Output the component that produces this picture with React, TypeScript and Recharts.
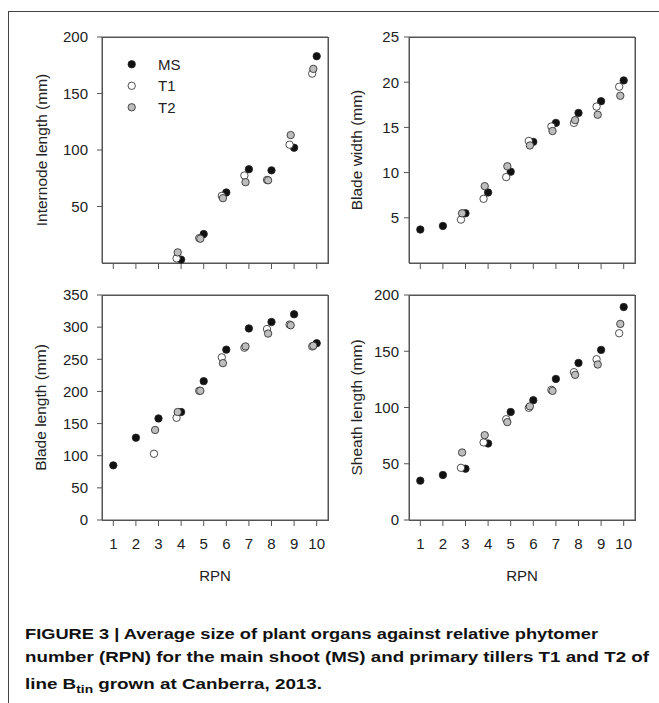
import { ScatterChart, Scatter, XAxis, YAxis, Legend, ReferenceLine } from "recharts";

// ---------------------------------------------------------------------------
// Data. null = organ not present at that RPN
// ---------------------------------------------------------------------------

const RPN = [1, 2, 3, 4, 5, 6, 7, 8, 9, 10];

const internodeMS = [null, null, null, 3, 25.6, 62.4, 83, 82, 102, 183];
const internodeT1 = [null, null, null, 4.1, 22, 59.4, 77.4, 73.5, 104.7, 167.6];
const internodeT2 = [null, null, null, 9.4, 21.5, 57.4, 71.5, 73.2, 113.2, 171.8];

const bladeWidthMS = [3.7, 4.1, 5.5, 7.8, 10.1, 13.4, 15.5, 16.6, 17.9, 20.2];
const bladeWidthT1 = [null, null, 4.8, 7.1, 9.5, 13.5, 15.1, 15.5, 17.3, 19.5];
const bladeWidthT2 = [null, null, 5.5, 8.5, 10.7, 13.0, 14.6, 15.8, 16.4, 18.5];

const bladeLengthMS = [85, 128, 158, 168, 216, 265, 298, 308, 320, 275];
const bladeLengthT1 = [null, null, 103, 159, 201, 253, 268, 297, 304, 270];
const bladeLengthT2 = [null, null, 140, 168, 201, 244, 270, 290, 303, 271];

const sheathMS = [35, 40, 45.6, 68, 96, 106.5, 125.4, 139.6, 151.2, 189.3];
const sheathT1 = [null, null, 46.4, 69, 89.6, 99.7, 115.7, 131.4, 142.9, 166];
const sheathT2 = [null, null, 60, 75.4, 87, 101, 114.8, 129, 138.2, 174.3];

const internodeTicks = [50, 100, 150, 200];
const bladeWidthTicks = [5, 10, 15, 20, 25];
const bladeLengthTicks = [0, 50, 100, 150, 200, 250, 300, 350];
const sheathTicks = [0, 50, 100, 150, 200];

const X_DOMAIN: [number, number] = [0.5, 10.5];

// ---------------------------------------------------------------------------
// Styles
// ---------------------------------------------------------------------------

const FONT = "'Liberation Sans', Arial, Helvetica, sans-serif";
const TEXT = "#222";
const AXIS = "#555";

// tillers are plotted slightly left of the main shoot so they don't hide it
const SERIES = [
  { key: "MS", fill: "#111111", shift: 0 },
  { key: "T1", fill: "#ffffff", shift: -0.2 },
  { key: "T2", fill: "#bdbdbd", shift: -0.15 },
];

type Val = number | null;

const toPoints = (vals: Val[], shift: number) =>
  RPN.flatMap((r, i) => (vals[i] == null ? [] : [{ x: r + shift, y: vals[i] }]));

const dot = (fill: string) => (props: any) => (
  <circle cx={props.cx} cy={props.cy} r={3.7} fill={fill} stroke="#222" strokeWidth={0.8} />
);

const noTick = () => <g />;

function LegendBox() {
  return (
    <svg width={90} height={66} style={{ display: "block" }}>
      {SERIES.map((s, i) => (
        <g key={s.key}>
          <circle cx={6.7} cy={9.3 + i * 21.5} r={3.7} fill={s.fill} stroke="#222" strokeWidth={0.8} />
          <text x={33} y={9.3 + i * 21.5 + 5.3} fontSize={15} fontFamily={FONT} fill={TEXT}>
            {s.key}
          </text>
        </g>
      ))}
    </svg>
  );
}

// ---------------------------------------------------------------------------
// Panel
// ---------------------------------------------------------------------------

interface PanelProps {
  left: number;
  top: number;
  width: number;
  height: number;
  margin: { top: number; right: number; bottom: number; left: number };
  yAxisWidth: number;
  yTickMargin: number;
  xAxisHeight: number;
  showXLabels: boolean;
  yDomain: [number, number];
  yTicks: number[];
  values: [Val[], Val[], Val[]];
  legend?: boolean;
}

function Panel(p: PanelProps) {
  const tickStyle = { fontSize: 15, fontFamily: FONT, fill: TEXT };
  // plot-area box, derived from the chart's own margins and axis sizes
  const plotX = p.margin.left + p.yAxisWidth;
  const plotY = p.margin.top;
  const plotW = p.width - plotX - p.margin.right;
  const plotH = p.height - plotY - p.margin.bottom - p.xAxisHeight;
  return (
    <div style={{ position: "absolute", left: p.left, top: p.top }}>
      <div
        style={{
          position: "absolute",
          left: plotX,
          top: plotY,
          width: plotW + 1,
          height: plotH + 1,
          boxSizing: "border-box",
          border: `1px solid ${AXIS}`,
        }}
      />
      <ScatterChart width={p.width} height={p.height} margin={p.margin}>
        <XAxis
          type="number"
          dataKey="x"
          domain={X_DOMAIN}
          ticks={RPN}
          height={p.xAxisHeight}
          tick={p.showXLabels ? tickStyle : noTick}
          tickSize={6}
          tickMargin={12}
          stroke={AXIS}
        />
        <YAxis
          type="number"
          dataKey="y"
          domain={p.yDomain}
          ticks={p.yTicks}
          width={p.yAxisWidth}
          tick={tickStyle}
          tickSize={5}
          tickMargin={p.yTickMargin}
          stroke={AXIS}
        />
        {/* close the frame: top and right edges of the plot box */}
        <ReferenceLine y={p.yDomain[1]} stroke={AXIS} />
        <ReferenceLine x={X_DOMAIN[1]} stroke={AXIS} />
        {p.legend && (
          <Legend
            layout="vertical"
            align="center"
            verticalAlign="middle"
            wrapperStyle={{ left: 125, top: 55, width: 90 }}
            content={() => <LegendBox />}
          />
        )}
        {SERIES.map((s, i) => (
          <Scatter
            key={s.key}
            name={s.key}
            data={toPoints(p.values[i], s.shift)}
            fill={s.fill}
            shape={dot(s.fill)}
            isAnimationActive={false}
          />
        ))}
      </ScatterChart>
    </div>
  );
}

// axis titles, drawn outside the charts
const Y_TITLES = [
  { text: "Internode length (mm)", x: 41.7, y: 150 },
  { text: "Blade width (mm)", x: 356.7, y: 150 },
  { text: "Blade length (mm)", x: 40, y: 407.5 },
  { text: "Sheath length (mm)", x: 356, y: 407.5 },
];
const X_TITLES = [
  { text: "RPN", x: 215, y: 580.5 },
  { text: "RPN", x: 522, y: 580.5 },
];

// ---------------------------------------------------------------------------
// App
// ---------------------------------------------------------------------------

export default function App() {
  const captionStyle = { fontSize: 15, fontFamily: FONT, fontWeight: 700, fill: "#111" };
  return (
    <div
      style={{
        position: "absolute",
        left: 0,
        top: 0,
        width: 659,
        height: 703,
        background: "#fff",
        overflow: "hidden",
      }}
    >
      <div
        style={{
          position: "absolute",
          left: 8,
          top: 11,
          width: 700,
          height: 720,
          borderTop: "1px solid #444",
          borderLeft: "1px solid #444",
        }}
      />
      <svg width={659} height={600} style={{ position: "absolute", left: 0, top: 0 }}>
        {Y_TITLES.map((t) => (
          <text
            key={t.text}
            x={t.x}
            y={t.y}
            transform={`rotate(-90 ${t.x} ${t.y})`}
            textAnchor="middle"
            dominantBaseline="central"
            fontSize={15.5}
            fontFamily={FONT}
            fill={TEXT}
          >
            {t.text}
          </text>
        ))}
        {X_TITLES.map((t, i) => (
          <text key={i} x={t.x} y={t.y} textAnchor="middle" fontSize={15} fontFamily={FONT} fill={TEXT}>
            {t.text}
          </text>
        ))}
      </svg>
      <Panel
        left={0}
        top={0}
        width={330}
        height={300}
        margin={{ top: 37, right: 2, bottom: 7, left: 20 }}
        yAxisWidth={82}
        yTickMargin={9}
        xAxisHeight={30}
        showXLabels={false}
        yDomain={[0, 200]}
        yTicks={internodeTicks}
        values={[internodeMS, internodeT1, internodeT2]}
        legend
      />
      <Panel
        left={330}
        top={0}
        width={310}
        height={300}
        margin={{ top: 37, right: 5, bottom: 7, left: 10 }}
        yAxisWidth={69}
        yTickMargin={5}
        xAxisHeight={30}
        showXLabels={false}
        yDomain={[0, 25]}
        yTicks={bladeWidthTicks}
        values={[bladeWidthMS, bladeWidthT1, bladeWidthT2]}
      />
      <Panel
        left={0}
        top={280}
        width={330}
        height={320}
        margin={{ top: 15, right: 2, bottom: 20, left: 20 }}
        yAxisWidth={82}
        yTickMargin={9}
        xAxisHeight={60}
        showXLabels
        yDomain={[0, 350]}
        yTicks={bladeLengthTicks}
        values={[bladeLengthMS, bladeLengthT1, bladeLengthT2]}
      />
      <Panel
        left={330}
        top={280}
        width={310}
        height={320}
        margin={{ top: 15, right: 5, bottom: 20, left: 10 }}
        yAxisWidth={69}
        yTickMargin={5}
        xAxisHeight={60}
        showXLabels
        yDomain={[0, 200]}
        yTicks={sheathTicks}
        values={[sheathMS, sheathT1, sheathT2]}
      />
      <svg
        width={659}
        height={83}
        style={{ position: "absolute", left: 0, top: 620 }}
      >
        <text x={25} y={19.3} textLength={573} lengthAdjust="spacingAndGlyphs" {...captionStyle}>
          FIGURE 3 | Average size of plant organs against relative phytomer
        </text>
        <text x={25} y={41.7} textLength={624} lengthAdjust="spacingAndGlyphs" {...captionStyle}>
          number (RPN) for the main shoot (MS) and primary tillers T1 and T2 of
        </text>
        <text x={25} y={69.3} textLength={297} lengthAdjust="spacingAndGlyphs" {...captionStyle}>
          line B
          <tspan fontSize={11} dy={4}>
            tin
          </tspan>
          <tspan dy={-4}> grown at Canberra, 2013.</tspan>
        </text>
      </svg>
    </div>
  );
}
